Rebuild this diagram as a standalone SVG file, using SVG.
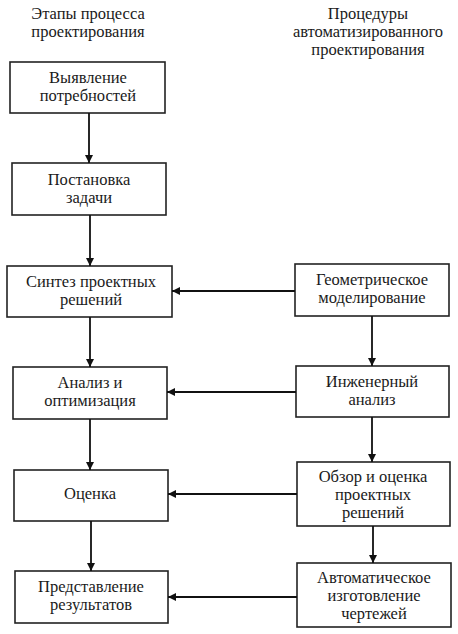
<svg xmlns="http://www.w3.org/2000/svg" width="458" height="634" viewBox="0 0 458 634">
<style>
.box{fill:#fff;stroke:#222;stroke-width:1.6}
text{font-family:'Liberation Serif','DejaVu Serif',serif;font-size:16.5px;fill:#1a1a1a;text-anchor:middle}
.c{stroke:#111;stroke-width:1.8;fill:none;marker-end:url(#ah)}
</style>
<defs>
<marker id="ah" viewBox="0 0 10 10" refX="10" refY="5" markerWidth="10" markerHeight="8" markerUnits="userSpaceOnUse" orient="auto">
<path d="M0,0 L10,5 L0,10 z" fill="#111"/>
</marker>
</defs>
<rect width="458" height="634" fill="#fff"/>
<g id="headers">
<text x="88" y="19">Этапы процесса</text>
<text x="88" y="37">проектирования</text>
<text x="368" y="19">Процедуры</text>
<text x="368" y="37">автоматизированного</text>
<text x="368" y="55">проектирования</text>
</g>
<g id="n1"><rect class="box" x="10" y="62" width="155" height="51"/><text x="88" y="83">Выявление</text><text x="88" y="101">потребностей</text></g>
<g id="n2"><rect class="box" x="12" y="163" width="154" height="52"/><text x="89" y="185">Постановка</text><text x="89" y="203">задачи</text></g>
<g id="n3"><rect class="box" x="7" y="266" width="165" height="51"/><text x="91" y="287">Синтез проектных</text><text x="91" y="305">решений</text></g>
<g id="n4"><rect class="box" x="13" y="367" width="154" height="52"/><text x="90" y="388">Анализ и</text><text x="90" y="406">оптимизация</text></g>
<g id="n5"><rect class="box" x="14" y="470" width="154" height="51"/><text x="90" y="499">Оценка</text></g>
<g id="n6"><rect class="box" x="15" y="571" width="153" height="52"/><text x="91" y="592">Представление</text><text x="91" y="610">результатов</text></g>
<g id="r1"><rect class="box" x="295" y="264" width="154" height="52"/><text x="372" y="285">Геометрическое</text><text x="372" y="303">моделирование</text></g>
<g id="r2"><rect class="box" x="296" y="366" width="153" height="51"/><text x="372" y="387">Инженерный</text><text x="372" y="405">анализ</text></g>
<g id="r3"><rect class="box" x="297" y="462" width="153" height="64"/><text x="373" y="482">Обзор и оценка</text><text x="373" y="500">проектных</text><text x="373" y="518">решений</text></g>
<g id="r4"><rect class="box" x="297" y="563" width="154" height="64"/><text x="374" y="583">Автоматическое</text><text x="374" y="601">изготовление</text><text x="374" y="619">чертежей</text></g>
<g id="connectors">
<path class="c" d="M89,113 V163"/>
<path class="c" d="M90,215 V266"/>
<path class="c" d="M90,317 V367"/>
<path class="c" d="M90,419 V470"/>
<path class="c" d="M91,521 V571"/>
<path class="c" d="M372,316 V366"/>
<path class="c" d="M372,417 V462"/>
<path class="c" d="M373,526 V563"/>
<path class="c" d="M295,291 H172"/>
<path class="c" d="M296,392 H167"/>
<path class="c" d="M297,494 H168"/>
<path class="c" d="M297,597 H168"/>
</g>
</svg>
